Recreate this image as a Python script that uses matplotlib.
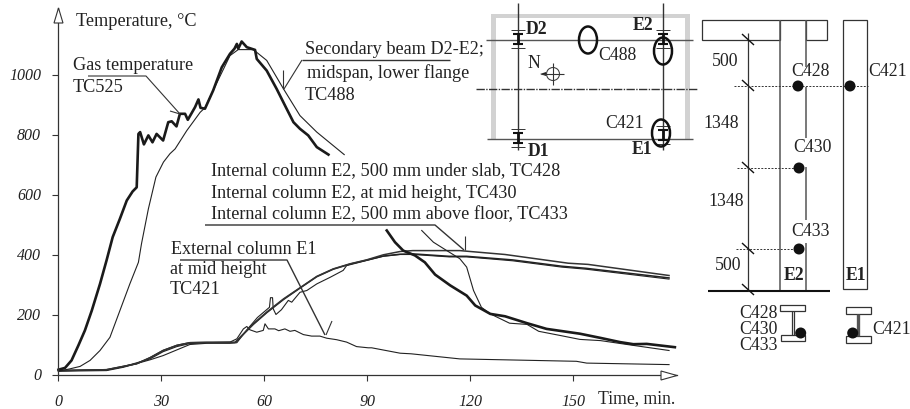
import numpy as np
import matplotlib
matplotlib.use("Agg")
import matplotlib.pyplot as plt
from matplotlib.patches import Polygon, Ellipse, Circle, Rectangle

plt.rcParams['font.family'] = ['Liberation Serif', 'DejaVu Serif']
nan = float('nan')

# ---------- data: time (min) and temperature (C) ----------
gas_t = [0,1.9,3.8,5.8,7.7,9.7,12.1,14,15.8,17.9,19.9,21.6,22.8,23.3,23.8,24.9,26.2,27.4,28.6,30.5,32,33,34.4,35.4,36.9,37.7,39.8,40.8,41.4,42.7,45.1,47.6,50,51.3,52,52.4,53.4,54.9,57.3,57.8,60.7,63.6,66.5,68.5,70.4,72.8,75.3,78.7,
         nan,95.7,98.1,100.5,103.9,106.8,109.8,114.2,119,121.5,125.9,130.2,136.6,142.3,152,158,163.7,167.6,171.5,179.7]
gas_T = [16,22,47,97,147,213,302,380,458,519,580,610,624,802,808,767,797,774,802,780,841,844,827,869,869,849,891,917,889,886,947,1024,1069,1086,1102,1086,1110,1091,1082,1052,1013,952,886,841,819,797,758,733,
         nan,480,441,413,397,374,333,297,263,230,202,194,171,152,136,122,108,101,102,91]
beam_t = [0,3.4,6.3,9.2,12.1,15,17.9,20.8,23.3,24.2,26.2,28.4,30.6,32.5,34,37.4,41.3,42.7,45.1,50,52.4,56.8,60.7,65.6,70.4,75.3,80.1,83.3,
          nan,105.9,109.3,113.2,117,119,121,123.3,125.9,131.5,136.6,140,146.3,152,158,165.8,178]
beam_T = [11,19,27,47,80,124,213,302,374,436,552,658,708,736,752,813,874,889,947,1063,1083,1083,1047,952,863,808,763,733,
          nan,480,441,413,386,358,280,224,202,171,167,144,130,117,113,100,80]
c428_t = [0,14,18.9,22.8,26.7,30.5,34.5,38.3,43.2,51.5,56.8,60.7,65.6,70.4,75.3,80.1,85,89.8,94.7,99.6,103.3,117,130.2,148.6,154.4,178]
c428_T = [13,16,27,36,56,80,97,106,107,107,169,208,252,289,327,352,369,382,399,410,413,413,400,371,367,330]
c430_t = [0,14,18.9,22.8,26.7,30.5,34.5,38.3,43.2,51.5,56.8,60.7,65.6,70.4,75.3,80.1,85,89.8,94.7,99.6,103.5,113.9,119,132.4,146.7,153.8,178]
c430_T = [13,16,27,36,56,80,97,106,107,107,167,206,250,288,326,351,368,381,395,401,402,394,394,382,361,354,322]
c433_t = [0,14,18.9,26.7,30.5,34.5,38.3,43.2,50,52,55,58,61.5,61.8,62.4,62.6,63.4,65,67,68,70.4,72.4,75.3,79.2,83,84,89.8,94.7,99.6,103.5,113.9,119,132.4,146.7,153.8,178]
c433_T = [11,13,24,49,63,82,100,104,104,106,150,190,224,256,256,219,200,216,247,241,274,280,302,324,347,363,380,394,400,400,392,392,379,358,351,318]
c421_t = [0,14,18.9,26.7,30.5,34.5,38.3,43.2,50,52,53.9,54.9,55.8,57.8,59.7,60.2,61.2,63.1,64.2,66,67.5,68.9,71.4,73.8,76.2,78.2,81.1,84,86.9,90.3,91.3,99.6,102.8,117,151,154,178]
c421_T = [13,15,26,52,76,93,103,106,108,119,152,160,149,141,147,169,152,152,146,152,144,147,133,128,128,121,116,108,93,89,89,71,69,52,44,38,33]

x_ticks = [0, 30, 60, 90, 120, 150]
x_labels = ['0', '30', '60', '90', '120', '150']
y_ticks = [0, 200, 400, 600, 800, 1000]
y_labels = ['0', '200', '400', '600', '800', '1000']

W, H = 910, 409
INK = '#222222'
fig = plt.figure(figsize=(W/100, H/100), dpi=100, facecolor='white')

# main chart axes: pixel box 58.5..677 horizontally, 374..8 vertically
ax = fig.add_axes([58.5/W, 1-374.5/H, (677-58.5)/W, (374.5-8)/H])
ax.set_xlim(0, (677-58.5)/3.43)
ax.set_ylim(0, (374.5-8)/0.3)
ax.patch.set_alpha(0)
for s in ['top', 'right']:
    ax.spines[s].set_visible(False)
for s in ['left', 'bottom']:
    ax.spines[s].set_linewidth(0.9)
    ax.spines[s].set_color('#333333')
ax.set_xticks(x_ticks, x_labels, style='italic', fontsize=11.5, color=INK)
ax.set_yticks(y_ticks, y_labels, style='italic', fontsize=11.5, color=INK)
ax.tick_params(axis='x', length=4, width=0.8, pad=10, color='#333333')
ax.tick_params(axis='y', length=4, width=0.8, pad=8.5, color='#333333')

ax.plot(c433_t, c433_T, color='#222222', lw=0.8, clip_on=False)
ax.plot(c421_t, c421_T, color='#222222', lw=0.8, clip_on=False)
ax.plot(c430_t, c430_T, color='#222222', lw=1.1, clip_on=False)
ax.plot(c428_t, c428_T, color='#333333', lw=1.1, clip_on=False)
ax.plot(beam_t, beam_T, color='#222222', lw=0.8, clip_on=False)
ax.plot(gas_t, gas_T, color='#1a1a1a', lw=1.9, clip_on=False)

# overlay in pixel coordinates for labels, leaders and the schematics
ov = fig.add_axes([0, 0, 1, 1])
ov.set_xlim(0, W); ov.set_ylim(H, 0); ov.axis('off'); ov.patch.set_alpha(0)

def T(x, y, s, size=12.8, ha='left', **kw):
    ov.text(x, y, s, fontsize=size, ha=ha, va='center', color=INK, **kw)
def L(xs, ys, lw=0.8, color='#333333', **kw):
    ov.plot(xs, ys, lw=lw, color=color, solid_capstyle='butt', **kw)

# axis arrows
ov.add_patch(Polygon([[58.5, 8], [54, 23], [63, 23]], fc='white', ec='#333333', lw=0.8, zorder=5))
ov.add_patch(Polygon([[677, 375.5], [661, 371], [661, 380]], fc='white', ec='#333333', lw=0.8, zorder=5))

# labels
LB = 13.15
T(76, 22, 'Temperature, °C', size=LB)
T(73, 66, 'Gas temperature', size=LB); T(73, 87, 'TC525', size=LB)
T(305, 50, 'Secondary beam D2-E2;', size=LB); T(307, 73, 'midspan, lower flange', size=LB); T(305, 95, 'TC488', size=LB)
T(211, 171, 'Internal column E2, 500 mm under slab, TC428', size=LB)
T(211, 194, 'Internal column E2, at mid height, TC430', size=LB)
T(211, 215, 'Internal column E2, 500 mm above floor, TC433', size=LB)
T(171, 250, 'External column E1', size=LB); T(170, 270, 'at mid height', size=LB); T(170, 290, 'TC421', size=LB)
T(598, 399, 'Time, min.', size=12.7)

# leaders
L([88, 146, 180], [76, 76, 114]); L([170, 180], [111, 114])
L([302, 450], [60, 60], lw=1.0); L([302, 284], [60, 89]); L([283, 283], [70, 89])
L([205, 435, 464], [225, 225, 250], lw=1.0); L([464.5, 464.5], [236, 250])
L([180, 287, 325], [260, 260, 335], lw=1.0); L([326, 332], [335, 321])

# ---- floor plan ----
BAND = '#d2d2d2'
ov.add_patch(Rectangle((491, 14), 4.5, 125, fc=BAND, ec='none'))
ov.add_patch(Rectangle((685, 14), 4.5, 125, fc=BAND, ec='none'))
ov.add_patch(Rectangle((491, 14), 198.5, 4, fc=BAND, ec='none'))
L([486, 693], [40, 40], lw=1.0, color='#555555'); L([487, 693], [139, 139], lw=1.0, color='#555555')
L([476, 698], [89, 89], lw=1.0, ls=(0, (6, 1, 1, 1)))
L([517.5, 517.5], [3, 150], lw=1.0); L([662.5, 662.5], [3, 150], lw=1.0)
for cx, cy in [(518, 39), (518, 138), (663, 39), (663, 135)]:
    L([cx-5, cx+5], [cy-5, cy-5], lw=1.5, color='#111111')
    L([cx-5, cx+5], [cy+5, cy+5], lw=1.5, color='#111111')
    L([cx, cx], [cy-5, cy+5], lw=2.0, color='#111111')
    L([cx-7, cx+7], [cy-9, cy-9], lw=0.7); L([cx-7, cx+7], [cy+9, cy+9], lw=0.7)
for cx, cy in [(588, 40), (663, 51), (661, 133)]:
    ov.add_patch(Ellipse((cx, cy), 18, 27, fc='none', ec='#111111', lw=1.8, zorder=4))
ov.add_patch(Circle((553, 74), 6.5, fc='none', ec='#444444', lw=0.8))
L([541, 564], [74, 74], lw=0.8); L([553, 553], [63, 85], lw=0.8)
ov.add_patch(Polygon([[540, 74], [546, 72], [546, 76]], fc='#222222', ec='none'))
T(527, 64, 'N')
T(526, 30, 'D2', weight='bold'); T(633, 26, 'E2', weight='bold')
T(528, 151, 'D1', weight='bold'); T(632, 149, 'E1', weight='bold')
T(598, 56, 'C488'); T(605, 123, 'C421')

# ---- column elevation ----
ov.add_patch(Rectangle((701.5, 20), 78.5, 20, fc='none', ec='#333333', lw=0.9))
ov.add_patch(Rectangle((806, 20), 21, 20, fc='none', ec='#333333', lw=0.9))
L([780, 806], [20, 20], lw=0.9)
L([780, 780], [20, 291], lw=1.1, color='#555555')
for y0, y1 in [(20, 67), (87, 138), (167, 220), (243, 291)]:
    L([806, 806], [y0, y1], lw=1.1, color='#555555')
ov.add_patch(Rectangle((842.7, 20), 24.6, 269, fc='none', ec='#333333', lw=0.9))
L([708, 830], [291, 291], lw=1.5, color='#111111')
L([747.5, 747.5], [33, 291], lw=0.9)
for y in [40, 86, 168, 249, 290]:
    L([742, 754], [y-6, y+5], lw=1.0, color='#111111')
L([734, 868], [86, 86], lw=0.7, ls=(0, (2, 1.5)))
L([737, 800], [168, 168], lw=0.7, ls=(0, (2, 1.5)))
L([736, 800], [249, 249], lw=0.7, ls=(0, (2, 1.5)))
for cx, cy in [(798, 86), (850, 86), (799, 168), (799, 249), (800.7, 333), (852.7, 333)]:
    ov.add_patch(Circle((cx, cy), 5.5, fc='#111111', ec='none', zorder=6))
T(725, 62, '500', ha='center'); T(721, 124, '1348', ha='center')
T(726, 202, '1348', ha='center'); T(728, 266, '500', ha='center')
T(810, 72, 'C428', ha='center'); T(812, 148, 'C430', ha='center')
T(811, 232, 'C433', ha='center'); T(888, 72, 'C421', ha='center')
T(794, 276, 'E2', ha='center', weight='bold'); T(856, 275, 'E1', ha='center', weight='bold')

# ---- cross sections ----
ov.add_patch(Rectangle((780, 304.5), 25, 6.5, fc='none', ec='#333333', lw=0.9))
ov.add_patch(Rectangle((780.5, 334.5), 24.5, 6.5, fc='none', ec='#333333', lw=0.9))
L([792, 792], [311, 334.5], lw=0.9); L([794, 794], [311, 334.5], lw=0.9)
ov.add_patch(Rectangle((845.5, 307), 25, 6.5, fc='none', ec='#333333', lw=0.9))
ov.add_patch(Rectangle((845.8, 336), 24.7, 6.5, fc='none', ec='#333333', lw=0.9))
L([857.5, 857.5], [313.5, 336], lw=2.4, color='#555555')
T(758, 313, 'C428', ha='center'); T(758, 329, 'C430', ha='center')
T(758, 346, 'C433', ha='center'); T(892, 329, 'C421', ha='center')

fig.savefig('out.png', dpi=100, facecolor='white')
